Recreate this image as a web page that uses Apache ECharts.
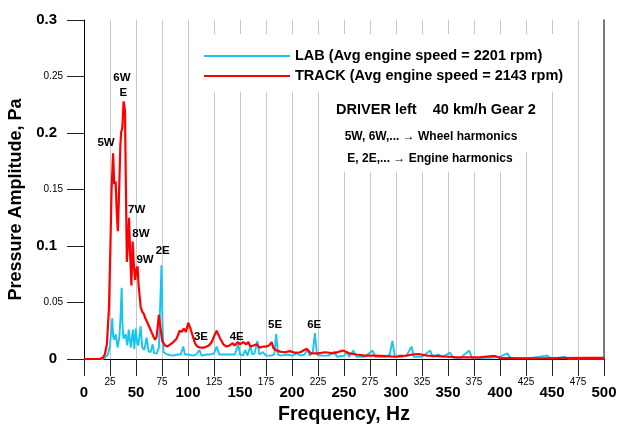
<!DOCTYPE html>
<html>
<head>
<meta charset="utf-8">
<script src="https://cdn.jsdelivr.net/npm/echarts@6/dist/echarts.min.js"></script>
<style>
html,body{margin:0;padding:0;background:#fff;}
#chart{width:621px;height:425px;}
</style>
</head>
<body>
<div id="chart"></div>
<script>
// ---- data ----
var labName = 'LAB (Avg engine speed = 2201 rpm)';
var trackName = 'TRACK (Avg engine speed = 2143 rpm)';

var labFreq = [0,18,20,23,25,27.2,28,29,30.4,32.4,34,35,36.2,37,38,40,41.7,43,45,47,48.4,49.7,51,52.2,54.5,56,58,60.2,62,64,66,67.5,70,72,73,74.5,75.5,76.5,80,85,90,93,95.5,97,100,105,108,111,113,118,122,125,127.6,130,135,140,145,148.4,150,153,155,157,160,162,164,166.7,168.5,172,175,180,183,184.8,186.5,190,195,200,205,208,212,214.7,217,220,222,224,228,235,241,243,250,253,255,259,262,270,277.5,280,290,294,296.5,299,305,310,315,317,325,333,335,341,345,352,355,362,370.5,373,380,390,400,407,410,420,430,445,448,455,462.5,465,480,500];
var labAmp  = [0,0,0.001,0.004,0.012,0.036,0.02,0.017,0.022,0.01,0.02,0.035,0.063,0.03,0.018,0.022,0.012,0.026,0.01,0.026,0.009,0.027,0.015,0.012,0.029,0.01,0.008,0.019,0.007,0.006,0.013,0.005,0.005,0.01,0.04,0.083,0.03,0.006,0.004,0.003,0.004,0.004,0.011,0.004,0.004,0.003,0.004,0.008,0.003,0.004,0.004,0.005,0.011,0.004,0.004,0.004,0.004,0.013,0.004,0.003,0.008,0.003,0.011,0.004,0.005,0.016,0.004,0.006,0.003,0.003,0.004,0.022,0.004,0.003,0.004,0.003,0.005,0.003,0.004,0.008,0.003,0.006,0.023,0.004,0.003,0.003,0.0065,0.002,0.003,0.006,0.002,0.0075,0.002,0.002,0.0075,0.002,0.002,0.004,0.016,0.002,0.002,0.003,0.011,0.002,0.002,0.0075,0.002,0.004,0.002,0.0056,0.001,0.001,0.0075,0.001,0.001,0.001,0.002,0.005,0.001,0.001,0.001,0.003,0.001,0.001,0.002,0.0005,0.0005,0.0005];

var trackFreq = [0,15,18,20,22,24,25.3,26.5,28,29,30.4,31.5,32.5,33.5,35,35.8,36.8,38.1,39.4,40.3,41.2,42.2,43.3,44.5,45.6,46.8,47.8,49.2,50.5,51.5,52.5,54.5,56,57.5,59,60.3,62.5,64.4,66.7,68.3,69.9,72,73.6,75.3,78,80,83,86,89,92,94,96,98,100.3,102,104,106.7,109,112,115,118,120,122.8,125,127.6,129,131,134,137,140,143,145,148,150,153,156,158,160,163,166,169,172,175,178,180.5,182,184,188.5,193,198,203,208,214,218,225,232,240,249,255,262,270,280,290,300,304,310,316,321.5,330,340,350,360,370,380,395,400,410,420,440,460,480,500];
var trackAmp  = [0,0,0.001,0.004,0.013,0.045,0.095,0.15,0.182,0.155,0.157,0.13,0.113,0.14,0.19,0.201,0.204,0.228,0.22,0.15,0.086,0.1,0.125,0.09,0.065,0.104,0.085,0.07,0.08,0.082,0.065,0.046,0.042,0.04,0.036,0.0345,0.029,0.03,0.02,0.017,0.02,0.039,0.027,0.0155,0.012,0.011,0.013,0.015,0.018,0.025,0.024,0.027,0.024,0.032,0.028,0.022,0.014,0.011,0.01,0.01,0.011,0.012,0.015,0.02,0.025,0.022,0.018,0.013,0.011,0.012,0.014,0.012,0.015,0.013,0.015,0.013,0.015,0.011,0.012,0.013,0.01,0.011,0.011,0.012,0.015,0.01,0.008,0.0065,0.006,0.007,0.0055,0.006,0.009,0.005,0.005,0.006,0.005,0.0075,0.005,0.004,0.003,0.003,0.0025,0.002,0.0027,0.003,0.004,0.0044,0.003,0.0025,0.002,0.0015,0.0015,0.0015,0.0027,0.001,0.0008,0.0006,0.0005,0.0008,0.001,0.001];

var annoText = ['5W','6W','E','7W','8W','9W','2E','3E','4E','5E','6E'];
var annoFreq = [21.2,36.5,37.8,50.7,54.8,58.7,75.7,112.5,146.8,183.7,221.4];
var annoAmp  = [0.191,0.2487,0.2357,0.1319,0.1112,0.0876,0.0956,0.0192,0.0192,0.0301,0.0301];

var xMin = 0, xMax = 500, xStep = 25, xMajor = 50;
var yMin = 0, yMax = 0.3, yStep = 0.05;

var noteTitle = 'DRIVER left    40 km/h Gear 2';
var noteWheel = '5W, 6W,... \u2192 Wheel harmonics';
var noteEngine = 'E, 2E,... \u2192 Engine harmonics';

// ---- build ----
function pairs(xs, ys){ return xs.map(function(x,i){ return [x, ys[i]]; }); }
var FF = 'Liberation Sans, Arial, Helvetica, sans-serif';

var chart = echarts.init(document.getElementById('chart'), null, {renderer:'canvas'});
chart.setOption({
  animation: false,
  backgroundColor: '#fff',
  textStyle: {fontFamily: FF},
  grid: {left: 84, right: 17, top: 20, bottom: 66, containLabel: false, outerBoundsMode: 'none'},
  legend: {
    data: [labName, trackName],
    orient: 'vertical',
    left: 204, top: 48, padding: 0,
    itemWidth: 86, itemHeight: 2, itemGap: 4,
    icon: 'rect',
    selectedMode: false,
    textStyle: {fontFamily: FF, fontSize: 14.5, fontWeight: 'bold', color: '#000', lineHeight: 16},
    z: 10
  },
  xAxis: {
    type: 'value', min: xMin, max: xMax, interval: xStep,
    name: 'Frequency, Hz', nameLocation: 'middle', nameGap: 44,
    nameTextStyle: {fontFamily: FF, fontSize: 19.5, fontWeight: 'bold', color: '#000'},
    axisLine: {show: true, onZero: false, lineStyle: {color: '#000', width: 1}},
    axisTick: {show: true, inside: false, length: 17, lineStyle: {color: '#222', width: 1}},
    splitLine: {show: true, lineStyle: {color: '#c8c8c8', width: 1}},
    axisLabel: {
      margin: 17, color: '#000', fontFamily: FF,
      formatter: function(v){ return (v % xMajor === 0) ? '{big|' + v + '}' : '{small|' + v + '}'; },
      rich: {
        big: {fontSize: 15, fontWeight: 'bold', fontFamily: FF, color: '#000', lineHeight: 33},
        small: {fontSize: 10, fontFamily: FF, color: '#000', lineHeight: 12}
      }
    }
  },
  yAxis: [{
    type: 'value', min: yMin, max: yMax, interval: yStep,
    name: 'Pressure Amplitude, Pa', nameLocation: 'middle', nameGap: 52,
    nameTextStyle: {fontFamily: FF, fontSize: 18, fontWeight: 'bold', color: '#000', padding: [0, 20, 0, 0]},
    axisLine: {show: true, lineStyle: {color: '#000', width: 1}},
    axisTick: {show: true, inside: false, length: 17, lineStyle: {color: '#222', width: 1}},
    splitLine: {show: false},
    axisLabel: {
      margin: 21, color: '#000', fontFamily: FF,
      formatter: function(v){
        var s = String(Number(v.toFixed(2)));
        var major = Math.round(v * 100) % 10 === 0;
        return major ? '{big|' + s + '}' : '{small|' + s + '}';
      },
      rich: {
        big: {fontSize: 15, fontWeight: 'bold', fontFamily: FF, color: '#000', padding: [0,6,0,0]},
        small: {fontSize: 10, fontFamily: FF, color: '#000'}
      }
    }
  }, {
    type: 'value', min: yMin, max: yMax, position: 'right',
    axisLine: {show: true, lineStyle: {color: '#555', width: 1.5}},
    axisTick: {show: false}, axisLabel: {show: false}, splitLine: {show: false}
  }],
  graphic: [
    {type: 'rect', z: 5, shape: {x: 196, y: 34, width: 376, height: 58}, style: {fill: '#fff'}},
    {type: 'rect', z: 5, shape: {x: 322, y: 92, width: 228, height: 60}, style: {fill: '#fff'}},
    {type: 'rect', z: 5, shape: {x: 322, y: 152, width: 200, height: 20}, style: {fill: '#fff'}},
    {type: 'text', z: 6, x: 436, y: 110, style: {text: noteTitle, align: 'center', verticalAlign: 'middle', fontFamily: FF, fontSize: 14.5, fontWeight: 'bold', fill: '#000'}},
    {type: 'text', z: 6, x: 431, y: 136.5, style: {text: noteWheel, align: 'center', verticalAlign: 'middle', fontFamily: FF, fontSize: 12, fontWeight: 'bold', fill: '#000'}},
    {type: 'text', z: 6, x: 430, y: 158.5, style: {text: noteEngine, align: 'center', verticalAlign: 'middle', fontFamily: FF, fontSize: 12, fontWeight: 'bold', fill: '#000'}}
  ],
  series: [
    {
      name: labName, type: 'line', data: pairs(labFreq, labAmp),
      showSymbol: false, symbol: 'none', smooth: false,
      lineStyle: {color: '#18c4f4', width: 1.9}, itemStyle: {color: '#18c4f4'}, z: 2
    },
    {
      name: trackName, type: 'line', data: pairs(trackFreq, trackAmp),
      showSymbol: false, symbol: 'none', smooth: false,
      lineStyle: {color: '#ff0000', width: 2.2}, itemStyle: {color: '#ff0000'}, z: 3
    },
    {
      name: 'annotations', type: 'scatter',
      data: annoFreq.map(function(f,i){ return [f, annoAmp[i], annoText[i]]; }),
      symbol: 'circle', symbolSize: 0, itemStyle: {color: '#000', opacity: 1},
      label: {show: true, position: 'inside', formatter: function(p){ return p.data[2]; },
              fontFamily: FF, fontSize: 11.5, fontWeight: 'bold', color: '#000', opacity: 1},
      emphasis: {disabled: true},
      silent: true, z: 4
    }
  ]
});
</script>
</body>
</html>
